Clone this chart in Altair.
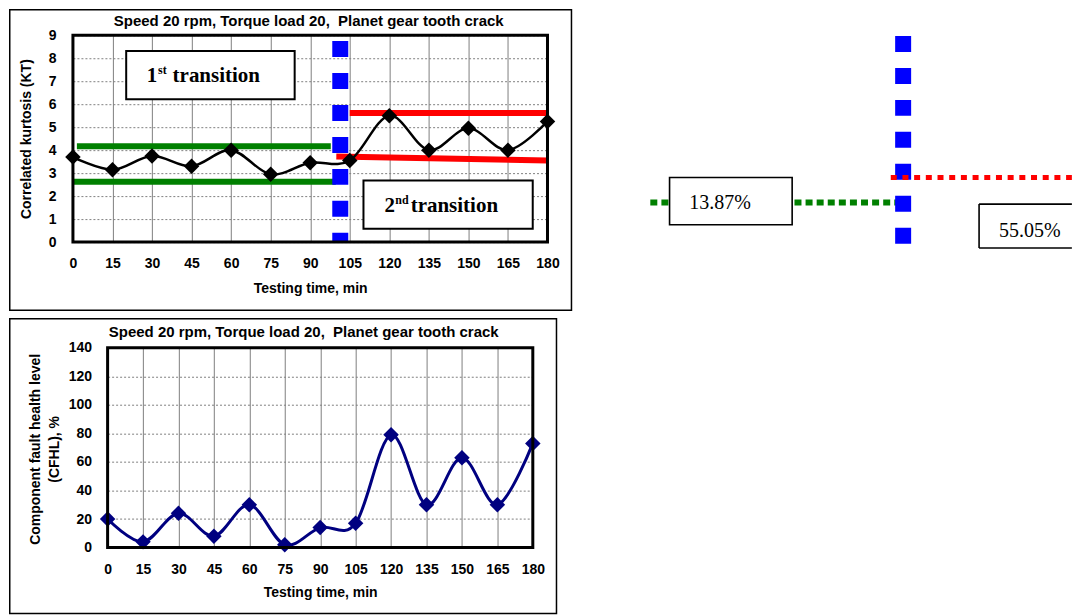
import altair as alt
import pandas as pd

# ---------------- data ----------------
time_min = [0, 15, 30, 45, 60, 75, 90, 105, 120, 135, 150, 165, 180]
kurtosis = [3.7, 3.15, 3.75, 3.3, 4.0, 2.95, 3.45, 3.55, 5.5, 4.0, 4.95, 4.0, 5.25]
cfhl = [20, 4, 24, 8, 30, 2, 14, 17, 79, 30, 63, 30, 73]

kt_ticks = [0, 1, 2, 3, 4, 5, 6, 7, 8, 9]
cfhl_ticks = [0, 20, 40, 60, 80, 100, 120, 140]

title_text = "Speed 20 rpm, Torque load 20,\u00a0 Planet gear tooth crack"

# threshold lines on the kurtosis chart (time, KT)
green_t = [1.5, 0.0]
green_t2 = [97.8, 99.7]
green_v = [4.17, 2.63]
green_v2 = [4.17, 2.63]
red_t = [105.0, 99.9]
red_t2 = [180.0, 180.0]
red_v = [5.62, 3.72]
red_v2 = [5.62, 3.55]
transition_t = [101.4]
transition_v = [8.75]
transition_v2 = [0.0]

# "transition" annotation boxes (time, KT)
box_t = [20.2, 110.2]
box_t2 = [84.1, 174.4]
box_v = [8.32, 2.68]
box_v2 = [6.21, 0.58]
num_text = ["1", "2"]
sup_text = ["st", "nd"]
word_text = ["transition", "transition"]
num_t = [28.0, 118.2]
sup_t = [32.3, 122.3]
word_t = [37.8, 128.1]
label_v = [6.97, 1.30]

# detached annotation on the right (same time / KT frame, beyond the axes)
ext_green_t, ext_green_t2, ext_green_v = [219.0], [313.8], [1.722]
ext_red_t, ext_red_t2, ext_red_v = [310.2], [378.9], [2.809]
ext_blue_t, ext_blue_v, ext_blue_v2 = [314.9], [8.97], [-0.074]
ext_box1 = dict(t=[226.3], t2=[272.8], v=[2.809], v2=[0.752])
ext_box2 = dict(t=[343.7], t2=[378.9], v=[1.652], v2=[-0.261])
ext_labels = ["13.87%", "55.05%"]
ext_label_t = [233.8, 351.3]
ext_label_v = [1.435, 0.20]

SANS = "Liberation Sans"
SERIF = "Liberation Serif"
GREEN = "#008000"
RED = "#ff0000"
BLUE = "#0000ff"
NAVY = "#000080"


def x_axis(title_y):
    return alt.Axis(values=time_min, title="Testing time, min", grid=True, ticks=False,
                    domain=False, labelFont=SANS, labelFontSize=14, labelFontWeight="bold",
                    labelColor="black", labelPadding=14.5, labelFlush=False,
                    labelOverlap=False, titleFont=SANS, titleFontSize=14,
                    titleFontWeight="bold", titleColor="black", titleY=title_y,
                    titleBaseline="alphabetic", gridColor="#808080", gridWidth=1)


def y_axis(values, title, title_x, title_y, label_pad, line_height=18):
    return alt.Axis(values=values, title=title, grid=True, ticks=False, domain=False,
                    labelFont=SANS, labelFontSize=14, labelFontWeight="bold",
                    labelColor="black", labelPadding=label_pad, labelFlush=False,
                    labelOverlap=False, titleFont=SANS, titleFontSize=14,
                    titleFontWeight="bold", titleColor="black", titleX=title_x,
                    titleY=title_y, titleAlign="center", titleBaseline="alphabetic",
                    titleAngle=270, titleLineHeight=line_height,
                    gridColor="#808080", gridDash=[2, 2], gridWidth=1)


one = pd.DataFrame({"k": [0]})


def title_mark(x_px, y_px):
    return alt.Chart(one).mark_text(text=title_text, font=SANS, fontSize=15, fontWeight="bold",
                                    color="black", align="center",
                                    baseline="alphabetic").encode(
        x=alt.value(x_px), y=alt.value(y_px))


def frame_mark(x0, x1, y0, y1, width=1.5):
    return alt.Chart(one).mark_rect(filled=False, stroke="black", strokeWidth=width).encode(
        x=alt.value(x0), x2=alt.value(x1), y=alt.value(y0), y2=alt.value(y1))


# ---------------- top chart: correlated kurtosis ----------------
W1, H1 = 475, 207
xs1 = alt.Scale(domain=[0, 180], nice=False, zero=False)
ys1 = alt.Scale(domain=[0, 9], nice=False, zero=False)
XA1 = x_axis(50)
YA1 = y_axis(kt_ticks, "Correlated kurtosis (KT)", -42, H1 / 2, 17)


def X1(f):
    return alt.X(f"{f}:Q", scale=xs1, axis=XA1)


def Y1(f):
    return alt.Y(f"{f}:Q", scale=ys1, axis=YA1)


kt_df = pd.DataFrame({"t": time_min, "v": kurtosis})
green_df = pd.DataFrame({"t": green_t, "t2": green_t2, "v": green_v, "v2": green_v2})
red_df = pd.DataFrame({"t": red_t, "t2": red_t2, "v": red_v, "v2": red_v2})
blue_df = pd.DataFrame({"t": transition_t, "v": transition_v, "v2": transition_v2})
box_df = pd.DataFrame({"t": box_t, "t2": box_t2, "v": box_v, "v2": box_v2})
num_df = pd.DataFrame({"t": num_t, "v": label_v, "s": num_text})
sup_df = pd.DataFrame({"t": sup_t, "v": label_v, "s": sup_text})
word_df = pd.DataFrame({"t": word_t, "v": label_v, "s": word_text})

green1 = alt.Chart(green_df).mark_rule(color=GREEN, strokeWidth=6).encode(
    x=X1("t"), x2="t2:Q", y=Y1("v"), y2="v2:Q")
red1 = alt.Chart(red_df).mark_rule(color=RED, strokeWidth=6).encode(
    x=X1("t"), x2="t2:Q", y=Y1("v"), y2="v2:Q")
boxes1 = alt.Chart(box_df).mark_rect(fill="white", stroke="black", strokeWidth=2).encode(
    x=X1("t"), x2="t2:Q", y=Y1("v"), y2="v2:Q")
num1 = alt.Chart(num_df).mark_text(font=SERIF, fontSize=21, fontWeight="bold", align="left",
                                   baseline="alphabetic", color="black").encode(
    x=X1("t"), y=Y1("v"), text="s:N")
sup1 = alt.Chart(sup_df).mark_text(font=SERIF, fontSize=12, fontWeight="bold", align="left",
                                   baseline="alphabetic", color="black", dy=-8).encode(
    x=X1("t"), y=Y1("v"), text="s:N")
word1 = alt.Chart(word_df).mark_text(font=SERIF, fontSize=21, fontWeight="bold", align="left",
                                     baseline="alphabetic", color="black").encode(
    x=X1("t"), y=Y1("v"), text="s:N")
blue1 = alt.Chart(blue_df).mark_rule(color=BLUE, strokeWidth=16, strokeDash=[16, 16]).encode(
    x=X1("t"), y=Y1("v"), y2="v2:Q")
line1 = alt.Chart(kt_df).mark_line(color="black", strokeWidth=2.5, interpolate="cardinal").encode(
    x=X1("t"), y=Y1("v"))
pts1 = alt.Chart(kt_df).mark_point(shape="diamond", filled=True, size=240, color="black",
                                   opacity=1).encode(x=X1("t"), y=Y1("v"))

# detached annotation marks
eg = alt.Chart(pd.DataFrame({"t": ext_green_t, "t2": ext_green_t2, "v": ext_green_v})).mark_rule(
    color=GREEN, strokeWidth=6, strokeDash=[7, 4.1]).encode(x=X1("t"), x2="t2:Q", y=Y1("v"))
eb1 = alt.Chart(pd.DataFrame(ext_box1)).mark_rect(fill="white", stroke="black",
                                                  strokeWidth=1.6).encode(
    x=X1("t"), x2="t2:Q", y=Y1("v"), y2="v2:Q")
eblue = alt.Chart(pd.DataFrame({"t": ext_blue_t, "v": ext_blue_v, "v2": ext_blue_v2})).mark_rule(
    color=BLUE, strokeWidth=16, strokeDash=[16, 16]).encode(x=X1("t"), y=Y1("v"), y2="v2:Q")
er = alt.Chart(pd.DataFrame({"t": ext_red_t, "t2": ext_red_t2, "v": ext_red_v})).mark_rule(
    color=RED, strokeWidth=5, strokeDash=[6, 5.7]).encode(x=X1("t"), x2="t2:Q", y=Y1("v"))
eb2 = alt.Chart(pd.DataFrame(ext_box2)).mark_rect(fill="white").encode(
    x=X1("t"), x2="t2:Q", y=Y1("v"), y2="v2:Q")
b2 = ext_box2
edges = pd.DataFrame({
    "t": [b2["t"][0], b2["t"][0], b2["t"][0]],
    "t2": [b2["t2"][0], b2["t2"][0], b2["t"][0]],
    "v": [b2["v"][0], b2["v2"][0], b2["v"][0]],
    "v2": [b2["v"][0], b2["v2"][0], b2["v2"][0]],
})
eb2e = alt.Chart(edges).mark_rule(color="black", strokeWidth=1.6).encode(
    x=X1("t"), x2="t2:Q", y=Y1("v"), y2="v2:Q")
et = alt.Chart(pd.DataFrame({"t": ext_label_t, "v": ext_label_v, "s": ext_labels})).mark_text(
    font=SERIF, fontSize=20, align="left", baseline="alphabetic", color="black").encode(
    x=X1("t"), y=Y1("v"), text="s:N")

top = alt.layer(
    frame_mark(-63.25, 499, -25.55, 275.2), title_mark(W1 / 2 - 1.5, -8.9),
    green1, red1, boxes1, num1, sup1, word1, blue1, line1, pts1,
    frame_mark(0, W1, 0, H1, 3),
    eg, eb1, et.transform_filter("datum.s == '13.87%'"), eblue, er, eb2, eb2e,
    et.transform_filter("datum.s == '55.05%'"),
).properties(width=W1, height=H1)

# ---------------- bottom chart: CFHL ----------------
LEFT2 = 34.7          # plot area starts this far right of the shared left origin
W2P, H2 = 425.6, 200
W2 = LEFT2 + W2P
xs2 = alt.Scale(domain=[0, 180], nice=False, zero=False, range=[LEFT2, W2])
ys2 = alt.Scale(domain=[0, 140], nice=False, zero=False)
XA2 = x_axis(49)
YA2 = y_axis(cfhl_ticks, ["Component fault health level", "(CFHL), %"], -33, 101.2,
             -18.7, 18.8)


def X2(f):
    return alt.X(f"{f}:Q", scale=xs2, axis=XA2)


def Y2(f):
    return alt.Y(f"{f}:Q", scale=ys2, axis=YA2)


cf_df = pd.DataFrame({"t": time_min, "v": cfhl})
line2 = alt.Chart(cf_df).mark_line(color=NAVY, strokeWidth=3, interpolate="cardinal").encode(
    x=X2("t"), y=Y2("v"))
pts2 = alt.Chart(cf_df).mark_point(shape="diamond", filled=True, size=240, color=NAVY,
                                   opacity=1).encode(x=X2("t"), y=Y2("v"))

bottom = alt.layer(
    frame_mark(-63.25, 484, -29, 266), title_mark(231, -11.2),
    line2, pts2, frame_mark(LEFT2, W2, 0, H2, 3),
).properties(width=W2, height=H2)

chart = alt.vconcat(top, bottom, spacing=4.8).properties(
    padding=0, background="white").configure_view(stroke="transparent")

chart.save("out.html", embed_options={"renderer": "svg", "actions": False})
